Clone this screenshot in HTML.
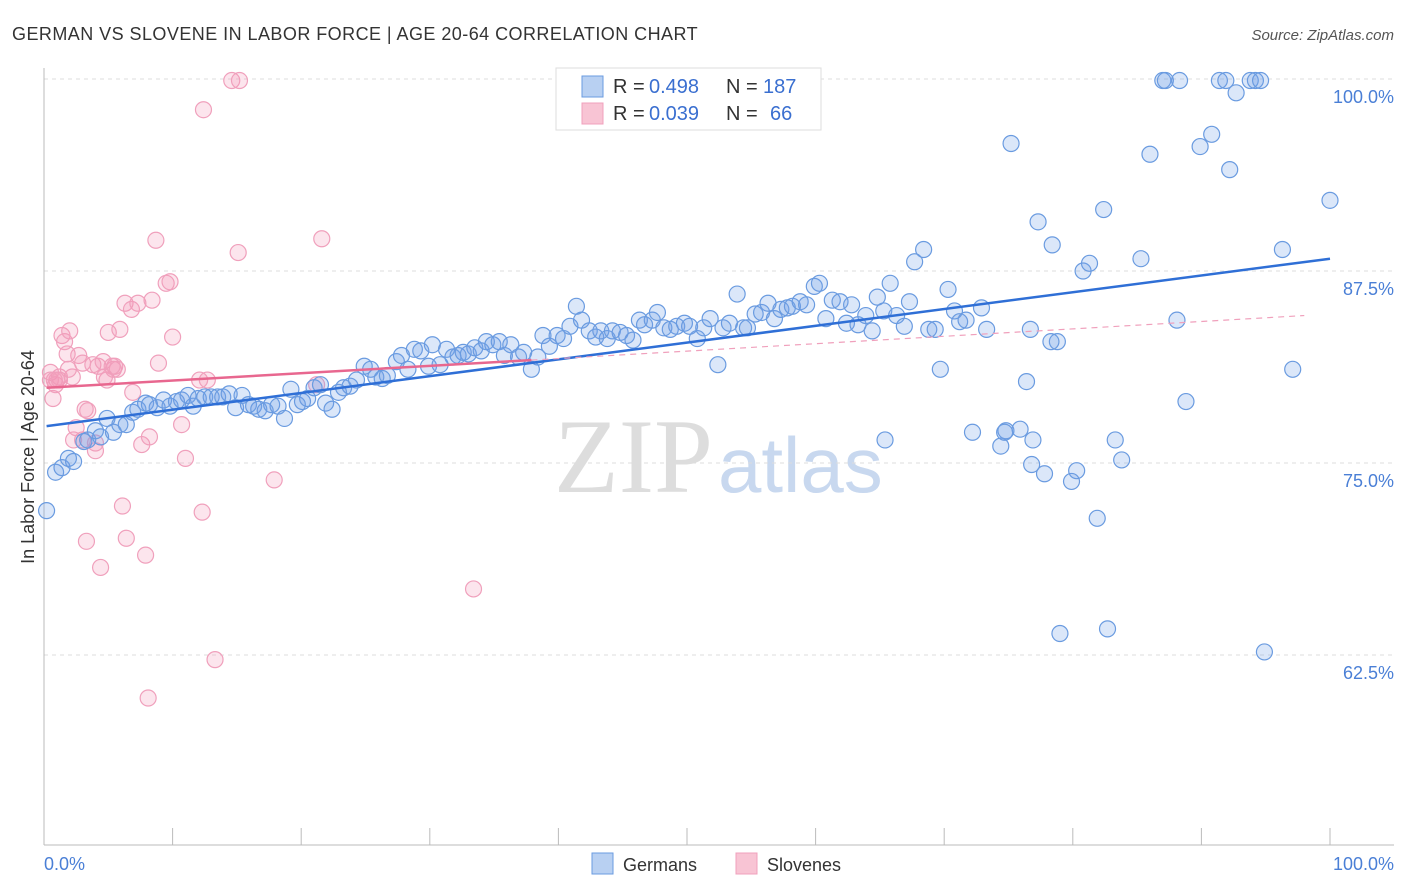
<!DOCTYPE html>
<html><head><meta charset="utf-8"><style>
body{margin:0;background:#fff;font-family:"Liberation Sans",sans-serif;}
svg{display:block}
</style></head><body>
<svg id="chart" width="1406" height="892" xmlns="http://www.w3.org/2000/svg">
<text x="12" y="40" font-size="18" fill="#333" letter-spacing="0.45">GERMAN VS SLOVENE IN LABOR FORCE | AGE 20-64 CORRELATION CHART</text>
<text x="1394" y="40" font-size="15" fill="#555" text-anchor="end" font-style="italic">Source: ZipAtlas.com</text>
<text x="713" y="492" font-size="106" fill="#ddd" text-anchor="end" font-family="Liberation Serif,serif">ZIP</text>
<text x="718" y="492" font-size="78" fill="#c8d8ef">atlas</text>
<g id="grid"></g>
<g id="pts"></g>
<g id="trend"></g>
<text transform="translate(34,457) rotate(-90)" font-size="18" fill="#333" text-anchor="middle">In Labor Force | Age 20-64</text>
<text x="44" y="870" font-size="18" fill="#4a7fd6">0.0%</text>
<text x="1394" y="870" font-size="18" fill="#4a7fd6" text-anchor="end">100.0%</text>
<g>
<rect x="556" y="68" width="265" height="62" fill="#fff" stroke="#ddd"/>
<rect x="582" y="76" width="21" height="21" fill="#b8d0f2" stroke="#6a9be0"/>
<rect x="582" y="103" width="21" height="21" fill="#f8c4d4" stroke="#f0a0bc"/>
<text x="613" y="93" font-size="20" fill="#333">R =</text>
<text x="649" y="93" font-size="20" fill="#3a6fd0">0.498</text>
<text x="726" y="93" font-size="20" fill="#333">N =</text>
<text x="763" y="93" font-size="20" fill="#3a6fd0">187</text>
<text x="613" y="120" font-size="20" fill="#333">R =</text>
<text x="649" y="120" font-size="20" fill="#3a6fd0">0.039</text>
<text x="726" y="120" font-size="20" fill="#333">N =</text>
<text x="770" y="120" font-size="20" fill="#3a6fd0">66</text>
</g>
<g>
<rect x="592" y="853" width="21" height="21" fill="#b8d0f2" stroke="#6a9be0"/>
<text x="623" y="871" font-size="18" fill="#333">Germans</text>
<rect x="736" y="853" width="21" height="21" fill="#f8c4d4" stroke="#f0a0bc"/>
<text x="767" y="871" font-size="18" fill="#333">Slovenes</text>
</g>
</svg>
<script>
const yTicks=[100,87.5,75,62.5];
const yTickLabels=["100.0%","87.5%","75.0%","62.5%"];
const xTicks=[0,10,20,30,40,50,60,70,80,90,100];
const germansX=[0.2,0.9,1.4,1.9,2.3,3.1,3.4,4.0,4.4,4.9,5.4,5.9,6.4,6.9,7.3,7.9,8.2,8.8,9.3,9.8,10.3,10.7,11.2,11.6,12.0,12.5,13.0,13.5,13.9,14.4,14.9,15.4,15.9,16.3,16.7,17.2,17.7,18.2,18.7,19.2,19.7,20.1,20.5,21.0,21.5,21.9,22.4,22.9,23.3,23.8,24.3,24.9,25.4,25.8,26.3,26.7,27.4,27.8,28.3,28.8,29.3,29.9,30.2,30.8,31.3,31.8,32.2,32.6,33.0,33.5,34.0,34.4,34.9,35.4,35.8,36.3,36.9,37.3,37.9,38.4,38.8,39.3,39.9,40.4,40.9,41.4,41.8,42.4,42.9,43.3,43.8,44.2,44.8,45.3,45.8,46.3,46.7,47.3,47.7,48.2,48.7,49.2,49.8,50.2,50.8,51.3,51.8,52.4,52.8,53.3,53.9,54.4,54.7,55.3,55.8,56.3,56.8,57.3,57.8,58.2,58.8,59.3,59.9,60.3,60.8,61.3,61.9,62.4,62.8,63.3,63.9,64.4,64.8,65.3,65.8,66.3,66.9,67.3,67.7,68.4,68.8,69.3,69.7,70.3,70.8,71.2,71.7,72.9,73.3,75.2,76.4,76.7,77.3,77.8,78.4,78.8,79.0,79.9,80.3,80.8,81.3,81.9,82.4,82.7,83.3,83.8,85.3,86.0,87.0,87.2,88.1,88.3,88.8,89.9,90.8,91.4,91.9,92.2,92.7,93.8,94.2,94.9,96.3,97.1,100,94.6,74.4,74.8,75.9,76.9,78.3,65.4,72.2,76.8,74.7];
const germansY=[71.9,74.4,74.7,75.3,75.1,76.4,76.5,77.1,76.7,77.9,77.0,77.5,77.5,78.3,78.5,78.9,78.8,78.6,79.1,78.7,79.0,79.1,79.4,78.7,79.2,79.3,79.3,79.3,79.3,79.5,78.6,79.4,78.8,78.7,78.5,78.4,78.8,78.7,77.9,79.8,78.8,79.0,79.2,79.9,80.1,78.9,78.5,79.6,79.9,80.0,80.4,81.3,81.1,80.6,80.5,80.7,81.6,82.0,81.1,82.4,82.3,81.3,82.7,81.4,82.4,81.9,82.0,82.2,82.1,82.5,82.3,82.9,82.7,82.9,82.0,82.7,81.9,82.2,81.1,81.9,83.3,82.6,83.3,83.1,83.9,85.2,84.3,83.6,83.2,83.6,83.1,83.6,83.5,83.3,83.0,84.3,84.0,84.3,84.8,83.8,83.7,83.9,84.1,83.9,83.1,83.8,84.4,81.4,83.8,84.1,86.0,83.8,83.8,84.7,84.8,85.4,84.4,85.0,85.1,85.2,85.5,85.3,86.5,86.7,84.4,85.6,85.5,84.1,85.3,84.0,84.6,83.6,85.8,84.9,86.7,84.6,83.9,85.5,88.1,88.9,83.7,83.7,81.1,86.3,84.9,84.2,84.3,85.1,83.7,95.8,80.3,83.7,90.7,74.3,89.2,82.9,63.9,73.8,74.5,87.5,88.0,71.4,91.5,64.2,76.5,75.2,88.3,95.1,99.9,99.9,84.3,99.9,79.0,95.6,96.4,99.9,99.9,94.1,99.1,99.9,99.9,62.7,88.9,81.1,92.1,99.9,76.1,77.1,77.2,76.5,82.9,76.5,77.0,74.9,77.0];
const slovenesX=[0.5,0.7,1.0,0.9,1.2,1.4,1.8,1.6,2.0,2.2,2.3,2.5,2.7,3.0,3.2,3.4,3.3,3.8,4.0,4.2,4.4,4.6,4.9,5.0,5.4,5.5,5.7,5.9,6.1,6.3,6.4,6.8,6.9,7.3,7.6,7.9,8.2,8.4,8.7,8.9,9.5,9.8,10.0,10.7,11.0,12.1,12.3,12.4,12.7,13.3,14.6,15.2,15.1,17.9,21.2,21.6,33.4,8.1,0.5,0.8,1.2,5.3,4.7,1.9,3.0,4.0];
const slovenesY=[80.9,79.2,80.4,80.1,80.6,83.3,82.1,82.9,83.6,80.6,76.5,77.3,82.0,81.5,78.5,78.4,69.9,81.4,75.8,81.3,68.2,81.6,80.4,83.5,81.1,81.3,81.1,83.7,72.2,85.4,70.1,85.0,79.6,85.4,76.2,69.0,76.7,85.6,89.5,81.5,86.7,86.8,83.2,77.5,75.3,80.4,71.8,98.0,80.4,62.2,99.9,99.9,88.7,73.9,80.1,89.6,66.8,59.7,80.4,80.4,80.4,81.3,80.6,81.1,76.5,76.3];
const germansTrend=[[0.2,77.4],[100,88.3]];
const slovenesTrendSolid=[[0.2,79.9],[37.9,81.7]];
const slovenesTrendDashed=[[37.9,81.7],[98,84.6]];

const NS="http://www.w3.org/2000/svg";
const X0=44,X1=1330,Y50=847,Y100=79;
const sx=v=>X0+(X1-X0)*v/100;
const sy=v=>Y50-(Y50-Y100)*(v-50)/50;
function mk(tag,attrs,parent){const e=document.createElementNS(NS,tag);for(const k in attrs)e.setAttribute(k,attrs[k]);parent.appendChild(e);return e;}
const grid=document.getElementById('grid');
yTicks.forEach((t,i)=>{
  const l=mk('line',{x1:44,x2:1394,y1:sy(t),y2:sy(t),stroke:'#ddd','stroke-dasharray':'4,4'},grid);
  
  
  const tx=mk('text',{x:1394,y:sy(t)+24,'font-size':18,fill:'#4a7fd6','text-anchor':'end'},grid);
  tx.textContent=yTickLabels[i];
  
  
});
const ax=mk('line',{x1:44,x2:44,y1:68,y2:845,stroke:'#bbb'},grid);


const bx=mk('line',{x1:44,x2:1394,y1:845,y2:845,stroke:'#bbb'},grid);


xTicks.forEach(t=>{
  const l=mk('line',{x1:sx(t),x2:sx(t),y1:828,y2:845,stroke:'#bbb'},grid);
  
  
});
const pts=document.getElementById('pts');
slovenesX.forEach((x,i)=>{
  const c=mk('circle',{cx:sx(x),cy:sy(slovenesY[i]),r:8,fill:'rgba(242,150,182,0.25)',stroke:'#f0a0bc','stroke-width':1.2},pts);
  
  
});
germansX.forEach((x,i)=>{
  const c=mk('circle',{cx:sx(x),cy:sy(germansY[i]),r:8,fill:'rgba(110,160,230,0.25)',stroke:'#6a9be0','stroke-width':1.2},pts);
  
  
});
const tr=document.getElementById('trend');
const g1=mk('line',{x1:sx(germansTrend[0][0]),y1:sy(germansTrend[0][1]),x2:sx(germansTrend[1][0]),y2:sy(germansTrend[1][1]),stroke:'#2f6fd6','stroke-width':2.5},tr);


const s1=mk('line',{x1:sx(slovenesTrendSolid[0][0]),y1:sy(slovenesTrendSolid[0][1]),x2:sx(slovenesTrendSolid[1][0]),y2:sy(slovenesTrendSolid[1][1]),stroke:'#e8678f','stroke-width':2.5},tr);


const s2=mk('line',{x1:sx(slovenesTrendDashed[0][0]),y1:sy(slovenesTrendDashed[0][1]),x2:sx(slovenesTrendDashed[1][0]),y2:sy(slovenesTrendDashed[1][1]),stroke:'#f0a0bc','stroke-width':1.2,'stroke-dasharray':'6,5'},tr);


</script>
</body></html>
